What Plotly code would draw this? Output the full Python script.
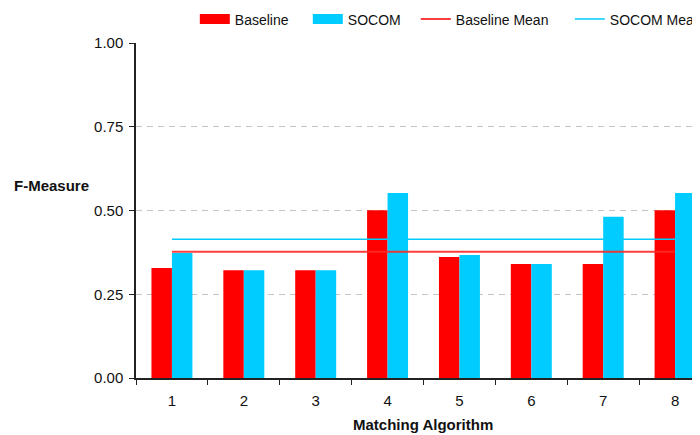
import plotly.graph_objects as go

categories = ["1", "2", "3", "4", "5", "6", "7", "8"]
baseline = [0.328, 0.322, 0.322, 0.501, 0.361, 0.340, 0.340, 0.501]
socom = [0.373, 0.322, 0.322, 0.552, 0.367, 0.340, 0.481, 0.552]
baseline_mean = 0.377
socom_mean = 0.414
y_ticks = [0.0, 0.25, 0.5, 0.75, 1.0]

RED = "#FF0000"
RED_LINE = "rgba(255,40,40,0.9)"
CYAN = "#00CCFF"
FONT = "Liberation Sans, Arial, sans-serif"

fig = go.Figure()
fig.add_trace(go.Bar(x=categories, y=baseline, name="Baseline", marker_color=RED,
                     marker_line_width=0, showlegend=False))
fig.add_trace(go.Bar(x=categories, y=socom, name="SOCOM", marker_color=CYAN,
                     marker_line_width=0, showlegend=False))
fig.add_trace(go.Scatter(x=categories, y=[baseline_mean] * len(categories), mode="lines",
                         line=dict(color=RED_LINE, width=2), showlegend=False,
                         name="Baseline Mean"))
fig.add_trace(go.Scatter(x=categories, y=[socom_mean] * len(categories), mode="lines",
                         line=dict(color=CYAN, width=1.6), showlegend=False,
                         name="SOCOM Mean"))

# legend entries
fig.add_trace(go.Scatter(x=[None], y=[None], mode="lines", name="Baseline",
                         line=dict(color=RED, width=10), legendwidth=68))
fig.add_trace(go.Scatter(x=[None], y=[None], mode="lines", name="SOCOM",
                         line=dict(color=CYAN, width=10), legendwidth=63))
fig.add_trace(go.Scatter(x=[None], y=[None], mode="lines", name="Baseline Mean",
                         line=dict(color=RED_LINE, width=2), legendwidth=109))
fig.add_trace(go.Scatter(x=[None], y=[None], mode="lines", name="SOCOM Mean",
                         line=dict(color=CYAN, width=1.6), legendwidth=100))

fig.update_layout(
    width=720, height=435,
    margin=dict(l=128, r=17, t=35, b=65, autoexpand=False),
    paper_bgcolor="white", plot_bgcolor="white",
    font=dict(family=FONT, size=15, color="#111111"),
    barmode="group", bargap=0.43, bargroupgap=0,
    showlegend=True,
    legend=dict(orientation="h", x=0.1023, xanchor="left", y=1.118, yanchor="top",
                bgcolor="rgba(0,0,0,0)", font=dict(size=14), itemclick=False,
                tracegroupgap=0),
    xaxis=dict(type="category", range=[-0.5, 7.5], tickson="boundaries",
               ticks="outside", ticklen=5, tickcolor="#222", showline=True,
               linecolor="#222", linewidth=1.5, showgrid=False, zeroline=False,
               ticklabelstandoff=8),
    yaxis=dict(range=[0, 1], tickvals=y_ticks, tickformat=".2f", ticks="outside",
               ticklen=5, tickcolor="#222", showline=True, linecolor="#222",
               linewidth=1.5, showgrid=True, gridcolor="#c4c4c4", griddash="6px,5px",
               gridwidth=1, zeroline=False, ticklabelstandoff=3),
    annotations=[
        dict(text="<b>F-Measure</b>", xref="paper", yref="paper", x=-0.2157, y=0.576,
             xanchor="left", yanchor="middle", showarrow=False, font=dict(size=15)),
        dict(text="<b>Matching Algorithm</b>", xref="paper", yref="paper", x=0.499, y=-0.14,
             xanchor="center", yanchor="middle", showarrow=False, font=dict(size=15)),
    ],
)

fig.write_html("out.html")
